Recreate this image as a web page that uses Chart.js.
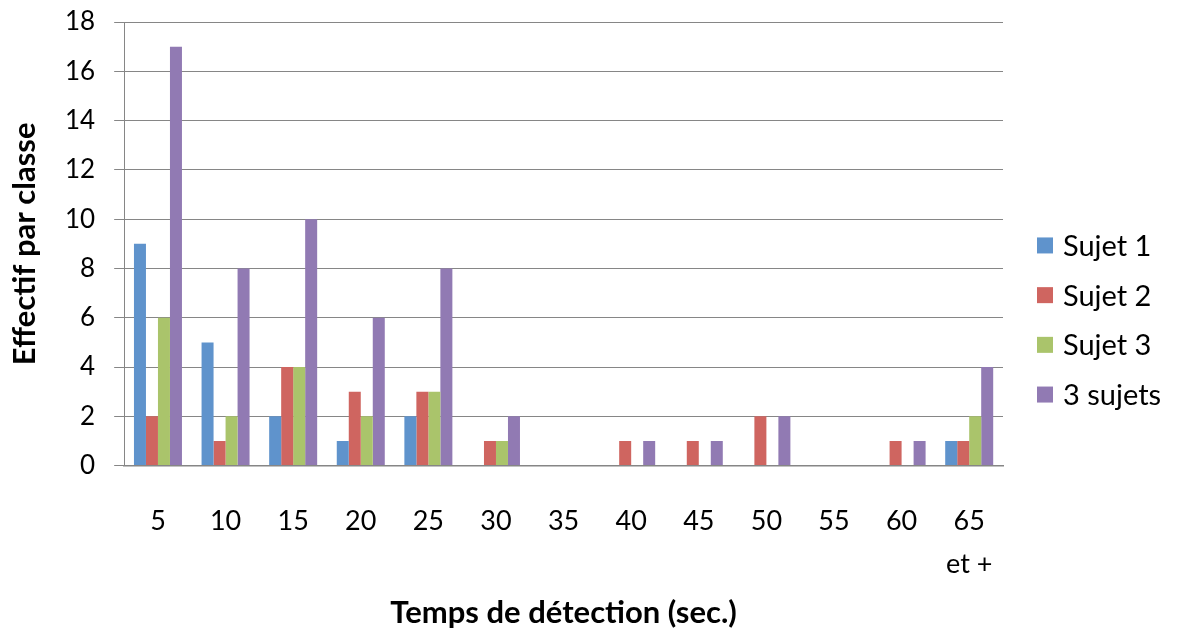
<!DOCTYPE html>
<html>
<head>
<meta charset="utf-8">
<script src="https://cdn.jsdelivr.net/npm/chart.js@4/dist/chart.umd.min.js"></script>
<style>
  html, body { margin: 0; padding: 0; background: #fff; }
  #wrap { width: 1184px; height: 632px; position: relative; }
</style>
</head>
<body>
<div id="wrap"><canvas id="c" width="1184" height="632"></canvas></div>
<script>
// Detection-time classes (seconds)
const categories = ['5', '10', '15', '20', '25', '30', '35', '40', '45', '50', '55', '60', ['65', 'et +']];

// Counts per class
const sujet1 = [9, 5, 2, 1, 2, 0, 0, 0, 0, 0, 0, 0, 1];
const sujet2 = [2, 1, 4, 3, 3, 1, 0, 1, 1, 2, 0, 1, 1];
const sujet3 = [6, 2, 4, 2, 3, 1, 0, 0, 0, 0, 0, 0, 2];
const troisSujets = [17, 8, 10, 6, 8, 2, 0, 1, 1, 2, 0, 1, 4];

const seriesNames = ['Sujet 1', 'Sujet 2', 'Sujet 3', '3 sujets'];
const yTicks = [0, 2, 4, 6, 8, 10, 12, 14, 16, 18];

const FONT = 'Lato, "Noto Sans", sans-serif';
const fills = ['#5F93CC', '#CF6560', '#AAC46B', '#917AB3'];

const datasets = [sujet1, sujet2, sujet3, troisSujets].map((vals, i) => ({
  label: seriesNames[i],
  data: vals,
  backgroundColor: fills[i],
  borderWidth: 0,
  categoryPercentage: 0.71,
  barPercentage: 1.0
}));

// Legend drawn in the right margin: square swatch + series name, stacked
const sideLegend = {
  id: 'sideLegend',
  afterDraw(chart) {
    const ctx = chart.ctx;
    const sets = chart.data.datasets;
    const step = 49.7;
    const x = chart.chartArea.right + 34;
    const y0 = chart.height / 2 + 4 - step * (sets.length - 1) / 2;
    ctx.save();
    ctx.font = '29px ' + FONT;
    ctx.textBaseline = 'middle';
    ctx.textAlign = 'left';
    sets.forEach((ds, i) => {
      const y = y0 + i * step;
      ctx.fillStyle = ds.backgroundColor;
      ctx.fillRect(x, y - 8, 16, 16);
      ctx.fillStyle = '#000';
      ctx.fillText(ds.label, x + 26, y + 1);
    });
    ctx.restore();
  }
};

new Chart(document.getElementById('c'), {
  type: 'bar',
  data: { labels: categories, datasets },
  plugins: [sideLegend],
  options: {
    responsive: false,
    animation: false,
    devicePixelRatio: 1,
    layout: { padding: { top: 0, right: 181, bottom: 4, left: 9 } },
    plugins: {
      tooltip: { enabled: false },
      legend: { display: false }
    },
    scales: {
      x: {
        afterFit: (axis) => { axis.paddingTop = 0; },
        grid: { display: false, drawTicks: false },
        border: { display: true, color: '#868686', width: 1.5 },
        ticks: {
          color: '#000',
          padding: 34,
          maxRotation: 0,
          autoSkip: false,
          font: { family: FONT, size: 27, lineHeight: 1.6 }
        },
        title: {
          display: true,
          text: 'Temps de détection (sec.)',
          color: '#000',
          padding: { top: -23, bottom: 0 },
          font: { family: FONT, size: 31, weight: 'bold', lineHeight: 1.0 }
        }
      },
      y: {
        min: 0,
        max: 18,
        afterBuildTicks: (axis) => { axis.ticks = yTicks.map(v => ({ value: v })); },
        afterFit: (axis) => { axis.paddingTop = 22; },
        grid: { color: '#868686', lineWidth: 1, tickLength: 10, drawTicks: true },
        border: { display: true, color: '#868686', width: 1 },
        ticks: {
          color: '#000',
          padding: 19,
          font: { family: FONT, size: 26 }
        },
        title: {
          display: true,
          text: 'Effectif par classe',
          color: '#000',
          padding: { top: 0, bottom: 6 },
          font: { family: FONT, size: 31, weight: 'bold', lineHeight: 1.0 }
        }
      }
    }
  }
});
</script>
</body>
</html>
